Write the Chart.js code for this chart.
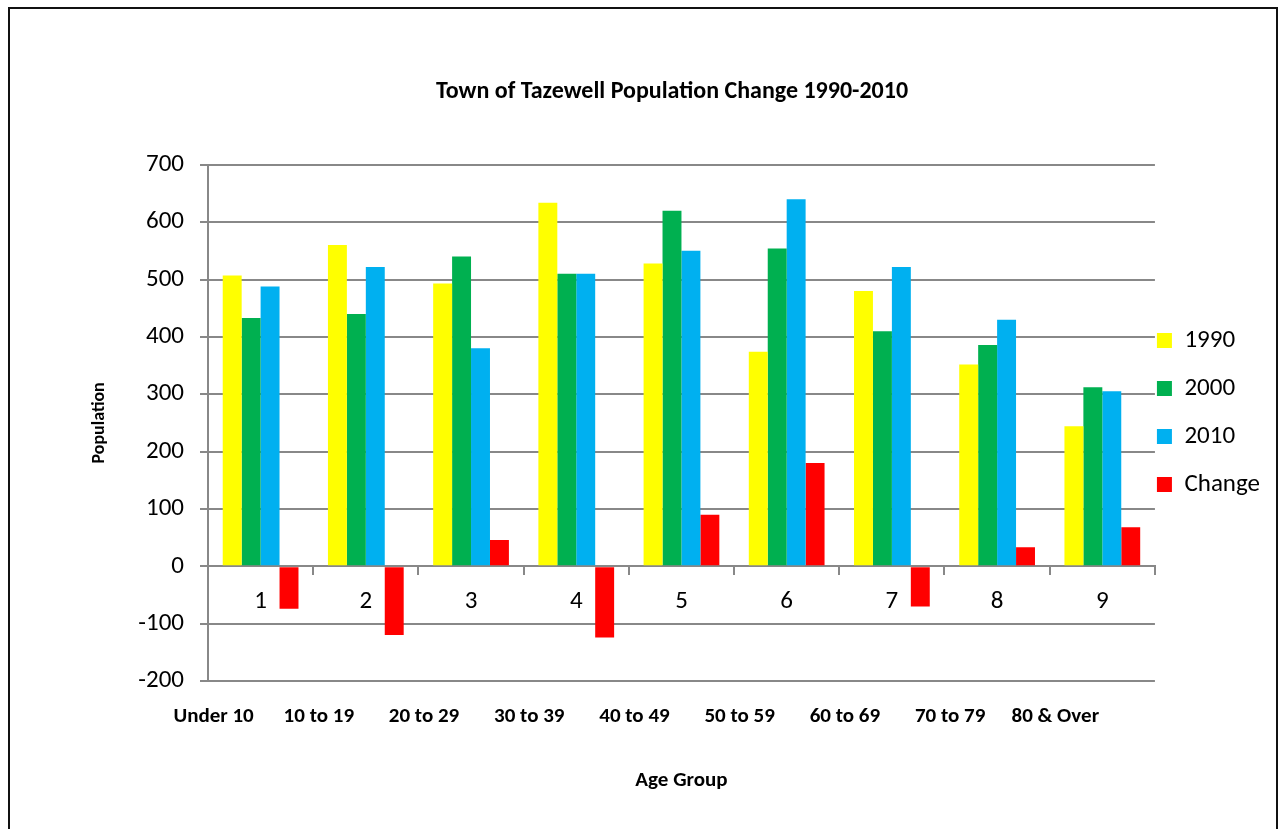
<!DOCTYPE html>
<html>
<head>
<meta charset="utf-8">
<script src="https://cdn.jsdelivr.net/npm/chart.js@4.4.1/dist/chart.umd.min.js"></script>
<style>
    body { margin: 0; background: #fff; }
    #frame { position: absolute; left: 8px; top: 7px; width: 1266px; height: 900px; border: 2px solid #111; }
    #box { position: absolute; left: 12px; top: 10px; width: 1262px; height: 800px; }
</style>
</head>
<body>
<div id="frame"></div>
<div id="box"><canvas id="pop_chart"></canvas></div>
<script>
// categorias e dados
var categories = ["1", "2", "3", "4", "5", "6", "7", "8", "9"];
var ageGroups = ["Under 10", "10 to 19", "20 to 29", "30 to 39", "40 to 49", "50 to 59", "60 to 69", "70 to 79", "80 & Over"];
var pop1990 = [507, 560, 493, 634, 528, 374, 480, 352, 244];
var pop2000 = [433, 440, 540, 510, 620, 554, 410, 386, 312];
var pop2010 = [488, 522, 380, 510, 550, 640, 522, 430, 305];
var popChange = [-74, -120, 46, -124, 90, 180, -70, 33, 68];
var yTicks = { min: -200, max: 700, step: 100 };

var fontFamily = "Carlito, Calibri, Lato, sans-serif";
var gridColor = '#888888';

var ctx = document.getElementById("pop_chart").getContext('2d');

var myChart = new Chart(ctx, {
    type: 'bar',
    data: {
        labels: categories,
        datasets: [
            { label: '1990', data: pop1990, backgroundColor: '#FFFF00' },
            { label: '2000', data: pop2000, backgroundColor: '#00B050' },
            { label: '2010', data: pop2010, backgroundColor: '#00B0F0' },
            { label: 'Change', data: popChange, backgroundColor: '#FF0000' }
        ]
    },
    options: {
        responsive: true,
        maintainAspectRatio: false,
        animation: false,
        datasets: {
            bar: { borderWidth: 0, categoryPercentage: 0.72, barPercentage: 1 }
        },
        layout: { padding: { left: 62, right: 4, top: 10, bottom: 16 } },
        plugins: {
            tooltip: { enabled: false },
            title: {
                display: true,
                text: 'Town of Tazewell Population Change 1990-2010',
                color: '#000',
                font: { family: fontFamily, size: 24, weight: 'bold' },
                padding: { top: 58, bottom: 58 }
            },
            legend: {
                position: 'right',
                fullSize: false,
                labels: {
                    color: '#000',
                    boxWidth: 15,
                    boxHeight: 15,
                    padding: 2,
                    font: { family: fontFamily, size: 25, lineHeight: 0.92 },
                    generateLabels: function (chart) {
                        // duas linhas por item para dar o espaçamento do Excel
                        return Chart.defaults.plugins.legend.labels.generateLabels(chart).map(function (item) {
                            item.text = [item.text, ''];
                            return item;
                        });
                    }
                }
            }
        },
        scales: {
            x: {
                type: 'category',
                position: { y: 0 },
                offset: true,
                grid: { display: true, drawOnChartArea: false, drawTicks: true, tickLength: 8, color: gridColor, lineWidth: 2, offset: true },
                border: { display: true, color: gridColor, width: 2 },
                ticks: { color: '#000', font: { family: fontFamily, size: 25 }, padding: 12 }
            },
            // faixas etárias por baixo do gráfico (caixa de texto no Excel)
            x2: {
                type: 'category',
                axis: 'x',
                labels: ageGroups,
                position: 'bottom',
                offset: true,
                grid: { display: false },
                border: { display: false },
                ticks: {
                    color: '#000',
                    font: { family: fontFamily, size: 21, weight: 'bold' },
                    padding: 15,
                    labelOffset: -47,
                    maxRotation: 0,
                    autoSkip: false
                },
                title: {
                    display: true,
                    text: 'Age Group',
                    color: '#000',
                    font: { family: fontFamily, size: 21, weight: 'bold' },
                    padding: { top: 40, bottom: 1 }
                },
                afterFit: function (scale) { scale.height = 113; }
            },
            y: {
                min: yTicks.min,
                max: yTicks.max,
                grid: { color: gridColor, lineWidth: 2, tickLength: 8 },
                border: { display: true, color: gridColor, width: 2 },
                ticks: { stepSize: yTicks.step, color: '#000', font: { family: fontFamily, size: 25 }, padding: 16 },
                title: {
                    display: true,
                    text: 'Population',
                    color: '#000',
                    font: { family: fontFamily, size: 18, weight: 'bold' },
                    padding: { top: 15, bottom: 4 }
                },
                afterFit: function (scale) { scale.width = 134; }
            }
        }
    }
});
</script>
</body>
</html>
